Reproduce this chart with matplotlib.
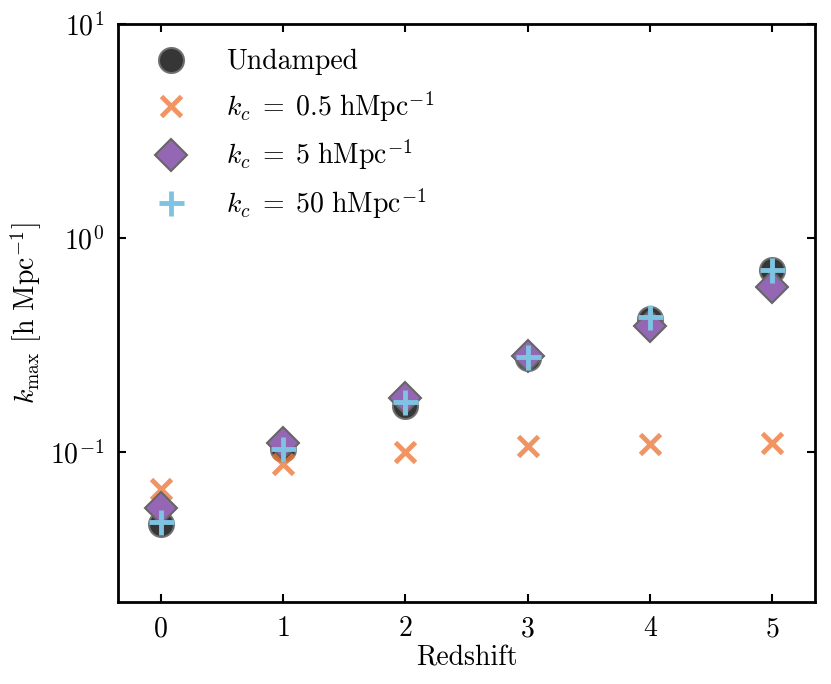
import numpy as np
import matplotlib
matplotlib.use("Agg")
import matplotlib.pyplot as plt
from matplotlib.ticker import NullLocator

plt.rcParams['font.family'] = 'serif'
plt.rcParams['font.serif'] = ['cmr10']
plt.rcParams['mathtext.fontset'] = 'cm'
plt.rcParams['axes.formatter.use_mathtext'] = True

# values
redshift = np.array([0, 1, 2, 3, 4, 5])
kmax_undamped = np.array([0.046, 0.103, 0.165, 0.275, 0.42, 0.71])
kmax_kc05 = np.array([0.067, 0.088, 0.100, 0.107, 0.109, 0.110])
kmax_kc5 = np.array([0.055, 0.110, 0.180, 0.280, 0.39, 0.59])
kmax_kc50 = np.array([0.047, 0.104, 0.172, 0.277, 0.43, 0.71])

labels = ["Undamped",
          r"$k_c\;=\;0.5\ {\rm hMpc}^{-1}$",
          r"$k_c\;=\;5\ {\rm hMpc}^{-1}$",
          r"$k_c\;=\;50\ {\rm hMpc}^{-1}$"]

fig = plt.figure(figsize=(8.31, 6.84), dpi=100)
ax = fig.add_axes([0.142, 0.120, 0.839, 0.845])

ax.plot(redshift, kmax_undamped, 'o', color='#2b2b2b', mec='#6e6e6e', mew=1.5,
        ms=18, alpha=0.95, label=labels[0])
ax.plot(redshift, kmax_kc05, 'x', color='#ee7a3c', mew=3.5, ms=14,
        alpha=0.8, label=labels[1])
ax.plot(redshift, kmax_kc5, 'D', color='#9466b4', mec='#666666', mew=1.5,
        ms=16, label=labels[2])
ax.plot(redshift, kmax_kc50, '+', color='#7ec4e2', mew=3.5, ms=18,
        label=labels[3])

ax.set_yscale('log')
ax.set_ylim(0.02, 10)
ax.set_xlim(-0.35, 5.35)
ax.yaxis.set_minor_locator(NullLocator())
ax.set_xticks(redshift)

ax.set_xlabel("Redshift", fontsize=20, labelpad=2)
ax.set_ylabel(r"$k_{\rm max}$ [h Mpc$^{-1}$]", fontsize=20)

ax.tick_params(which='major', direction='in', top=True, right=True,
               length=6, width=1.5, labelsize=20, pad=10)
for s in ax.spines.values():
    s.set_linewidth(2)

ax.legend(loc='upper left', frameon=False, fontsize=20, handletextpad=1.0,
          labelspacing=0.5, numpoints=1)

fig.savefig("out.png", dpi=100)
